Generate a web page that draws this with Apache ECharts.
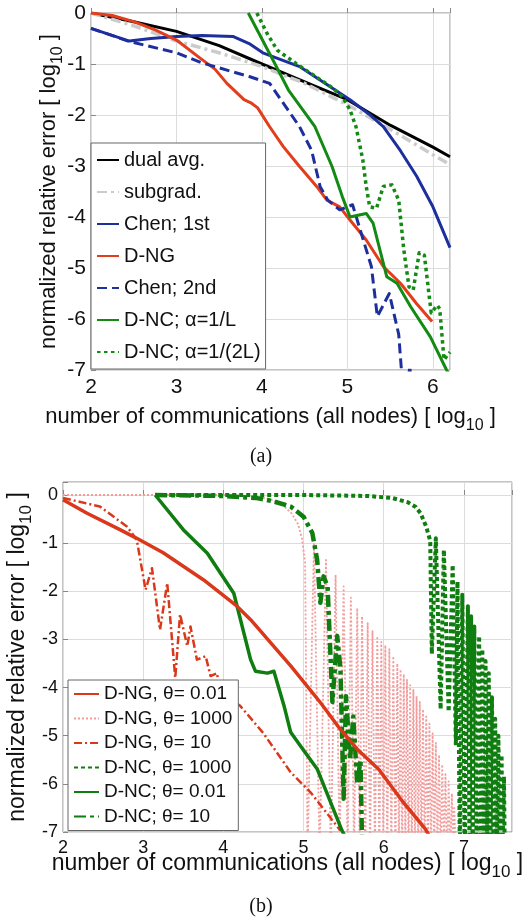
<!DOCTYPE html>
<html>
<head>
<meta charset="utf-8">
<script src="https://cdn.jsdelivr.net/npm/echarts@6.0.0/dist/echarts.min.js"></script>
<style>
  html, body { margin: 0; padding: 0; background: #fff; }
  #chart { width: 522px; height: 924px; }
</style>
</head>
<body>
<div id="chart"></div>
<script>
// ---- panel (a) ----
const dualAvgX = [2, 2.5, 3, 3.5, 4, 4.5, 5, 5.5, 6, 6.2]
const dualAvgY = [0, -0.17, -0.36, -0.64, -1.0, -1.35, -1.7, -2.2, -2.63, -2.82]

const subgradX = [2, 2.5, 3, 3.5, 4, 4.5, 5, 5.5, 6, 6.2]
const subgradY = [0, -0.25, -0.55, -0.78, -1.05, -1.38, -1.8, -2.28, -2.78, -2.97]

const chen1X = [2, 2.45, 2.7, 3, 3.3, 3.66, 3.85, 4.01, 4.44, 4.83, 5.03, 5.25, 5.42, 5.62, 5.81, 6.0, 6.2]
const chen1Y = [-0.3, -0.55, -0.5, -0.46, -0.44, -0.46, -0.6, -0.78, -1.05, -1.48, -1.7, -1.98, -2.23, -2.7, -3.2, -3.8, -4.6]

const dngX = [2, 2.25, 2.5, 2.75, 3, 3.28, 3.45, 3.59, 3.79, 3.87, 3.95, 4.09, 4.25, 4.44, 4.64, 4.76, 4.91, 5.03, 5.22, 5.42, 5.62, 5.81, 5.99]
const dngY = [0, -0.05, -0.17, -0.33, -0.53, -0.89, -1.1, -1.38, -1.7, -1.76, -1.86, -2.23, -2.62, -3.01, -3.4, -3.67, -3.8, -4.06, -4.45, -4.97, -5.3, -5.7, -6.05]

const chen2X = [2, 2.45, 3, 3.3, 3.86, 4.09, 4.44, 4.58, 4.68, 4.77, 4.91, 5.06, 5.28, 5.35, 5.49, 5.6, 5.65, 5.71, 5.73, 5.75]
const chen2Y = [-0.3, -0.56, -0.78, -0.98, -1.25, -1.38, -2.23, -2.69, -3.4, -3.67, -3.86, -3.76, -4.97, -5.95, -5.5, -6.3, -7.4, -7.2, -6.93, -7.4]

const dncLX = [3.84, 4.15, 4.31, 4.62, 4.82, 4.94, 5.03, 5.22, 5.3, 5.46, 5.58, 5.74, 5.97, 6.16, 6.2]
const dncLY = [0, -0.99, -1.51, -2.23, -3.01, -3.6, -4.0, -3.93, -4.12, -5.17, -5.3, -5.76, -6.35, -7.0, -7.1]

const dnc2LX = [3.94, 4.06, 4.18, 4.45, 4.82, 4.94, 5.03, 5.1, 5.18, 5.22, 5.26, 5.34, 5.42, 5.52, 5.6, 5.66, 5.72, 5.77, 5.84, 5.9, 5.98, 6.05, 6.08, 6.13, 6.2]
const dnc2LY = [0, -0.4, -0.73, -1.05, -1.46, -1.64, -1.9, -2.23, -2.88, -3.4, -3.8, -3.83, -3.4, -3.37, -3.67, -4.65, -5.37, -5.43, -4.7, -4.75, -5.88, -5.73, -5.8, -6.8, -6.65]

// ---- panel (b) ----
const ng001X = [2, 2.3, 2.71, 2.92, 3.25, 3.75, 4.17, 4.34, 4.84, 5.21, 5.46, 5.67, 5.94, 6.21, 6.52, 6.56]
const ng001Y = [-0.1, -0.38, -0.72, -0.9, -1.2, -1.76, -2.31, -2.59, -3.55, -4.31, -4.87, -5.28, -5.7, -6.31, -6.94, -7.05]

const ng1000X = [2, 3, 4, 4.4, 4.6, 4.75, 4.85, 4.93, 4.98, 5.02, 5.05,
  5.13, 5.2, 5.28, 5.34, 5.4, 5.45, 5.5, 5.55, 5.59, 5.63, 5.67, 5.7, 5.73, 5.77,
  5.8, 5.83, 5.86, 5.89, 5.92, 5.945, 5.97, 5.995, 6.02, 6.045, 6.07, 6.095,
  6.12, 6.145, 6.17, 6.19, 6.21, 6.23, 6.25, 6.27, 6.29, 6.31, 6.33, 6.35,
  6.37, 6.39, 6.41, 6.43, 6.45, 6.47, 6.49, 6.51, 6.53, 6.55, 6.57, 6.59,
  6.61, 6.63, 6.65, 6.67, 6.69, 6.71, 6.73, 6.75, 6.77, 6.79, 6.81, 6.83,
  6.85, 6.87, 6.88, 6.9]
const ng1000Y = [0, 0, 0, -0.03, -0.1, -0.22, -0.38, -0.6, -0.9, -1.4, -7.5,
  -1.0, -7.5, -1.35, -7.5, -1.66, -7.5, -1.9, -7.5, -2.13, -7.5, -2.35, -7.5, -2.52, -7.5,
  -2.66, -7.5, -2.83, -7.5, -2.97, -7.5, -3.05, -7.5, -3.12, -7.5, -3.2, -7.5,
  -3.35, -7.5, -3.5, -7.5, -3.62, -7.5, -3.72, -7.5, -3.84, -7.5, -3.95, -7.5,
  -4.05, -7.5, -4.18, -7.5, -4.3, -7.5, -4.45, -7.5, -4.6, -7.5, -4.75, -7.5,
  -4.95, -7.5, -5.15, -7.5, -5.4, -7.5, -5.6, -7.5, -5.8, -7.5, -5.95, -7.5,
  -6.2, -7.5, -6.5, -7.5]

const ng10X = [2, 2.46, 2.8, 2.92, 3.03, 3.11, 3.21, 3.3, 3.4, 3.46, 3.55, 3.59, 3.67, 3.78, 3.84, 3.92, 3.96, 4.21, 4.5, 4.84, 5.09, 5.46]
const ng10Y = [-0.06, -0.24, -0.66, -0.93, -1.97, -1.52, -2.8, -1.83, -3.8, -2.48, -3.14, -2.73, -3.42, -3.35, -3.76, -3.7, -4.1, -4.38, -4.95, -5.76, -6.18, -6.97]

const nc1000X = [3.15, 4, 5, 5.8, 6.1, 6.3, 6.4, 6.46, 6.53, 6.58, 6.6,
  6.65, 6.71, 6.75, 6.81, 6.86, 6.9, 6.92, 6.95, 6.98, 7.01, 7.05, 7.07,
  7.09, 7.11, 7.13, 7.16, 7.19, 7.21, 7.23, 7.25, 7.27, 7.29, 7.31, 7.33,
  7.35, 7.37, 7.39, 7.41, 7.43, 7.45, 7.47, 7.48, 7.5, 7.51]
const nc1000Y = [0, 0, 0, -0.02, -0.06, -0.15, -0.25, -0.38, -0.66, -0.95, -3.3,
  -0.9, -4.45, -1.14, -4.5, -1.45, -5.2, -1.8, -7.5, -2.07, -7.5, -2.31, -7.5,
  -2.52, -7.5, -2.73, -7.5, -2.93, -7.5, -3.2, -7.5, -3.45, -7.5, -3.7, -7.5,
  -4.2, -7.5, -4.65, -7.5, -5.0, -7.5, -5.4, -7.5, -5.85, -7.5]

const nc001X = [3.15, 3.5, 3.8, 4.13, 4.34, 4.4, 4.55, 4.63, 4.76, 4.84, 4.96, 5.17, 5.48, 5.52]
const nc001Y = [0, -0.72, -1.21, -2.04, -3.42, -3.66, -3.7, -3.66, -4.4, -4.93, -5.21, -5.69, -6.97, -7.1]

const nc10X = [3.15, 4.0, 4.4, 4.6, 4.84, 5.0, 5.11, 5.17, 5.21, 5.25, 5.3, 5.36, 5.42, 5.46, 5.5, 5.53, 5.58, 5.62, 5.67, 5.71, 5.73]
const nc10Y = [0, -0.02, -0.06, -0.12, -0.24, -0.45, -0.79, -1.35, -2.24, -1.69, -1.9, -4.3, -2.93, -3.6, -6.31, -4.18, -5.5, -4.6, -6.0, -5.5, -7.2]

const legendA = ['dual avg.', 'subgrad.', 'Chen; 1st', 'D-NG', 'Chen; 2nd', 'D-NC; α=1/L', 'D-NC; α=1/(2L)']
const legendB = ['D-NG, θ= 0.01', 'D-NG, θ= 1000', 'D-NG, θ= 10', 'D-NC, θ= 1000', 'D-NC; θ= 0.01', 'D-NC; θ= 10']

const FONT = "'Liberation Sans', Arial, sans-serif"
const axisTitle = 'number of communications (all nodes) [ log{sub|10} ]'
const yTitle = 'normalized relative error [ log{sub|10} ]'

const zip = (xs, ys) => xs.map((x, i) => [x, ys[i]])
const intLabel = (v) => (Math.abs(v - Math.round(v)) < 1e-9 ? String(Math.round(v)) : '')

function line(name, xs, ys, grid, color, width, type) {
  return {
    name,
    type: 'line',
    xAxisIndex: grid,
    yAxisIndex: grid,
    data: zip(xs, ys),
    symbol: 'none',
    showSymbol: false,
    animation: false,
    clip: true,
    lineStyle: { color, width, type: type || 'solid', cap: 'butt', join: 'round' },
    itemStyle: { color },
  }
}

function nameStyle(fs) {
  return {
    fontFamily: FONT, fontSize: fs, color: '#111',
    rich: { sub: { fontFamily: FONT, fontSize: Math.round(fs * 0.72), color: '#111', padding: [18, 0, 0, 0] } },
  }
}

function xAxis(grid, max, fs, nameFs, nameGap) {
  return {
    type: 'value',
    gridIndex: grid,
    min: 2,
    max,
    interval: 1,
    name: axisTitle,
    nameLocation: 'middle',
    nameGap,
    nameMoveOverlap: false,
    nameTextStyle: nameStyle(nameFs),
    axisLine: { show: false },
    axisTick: { show: true, inside: true, length: 5, lineStyle: { color: '#888' } },
    axisLabel: { fontFamily: FONT, fontSize: fs, color: '#111', margin: 7, formatter: intLabel },
    splitLine: { show: true, lineStyle: { color: '#dcdcdc', width: 1 } },
  }
}

function yAxis(grid, max, fs, nameFs, nameGap) {
  return {
    type: 'value',
    gridIndex: grid,
    min: -7,
    max,
    interval: 1,
    name: yTitle,
    nameLocation: 'middle',
    nameGap,
    nameMoveOverlap: false,
    nameTextStyle: nameStyle(nameFs),
    axisLine: { show: false },
    axisTick: { show: true, inside: true, length: 5, lineStyle: { color: '#888' } },
    axisLabel: { fontFamily: FONT, fontSize: fs, color: '#111', margin: 5, formatter: intLabel },
    splitLine: { show: true, lineStyle: { color: '#dcdcdc', width: 1 } },
  }
}

const RED_A = '#e23d1c'
const BLUE = '#1d2f9c'
const GREEN_A = '#138a13'
const RED_B = '#d9381a'
const PINK = '#f29c9c'
const GREEN_B = '#0f7d0f'

const chart = echarts.init(document.getElementById('chart'))
chart.setOption({
  backgroundColor: '#fff',
  animation: false,
  title: [
    { text: '(a)', left: 'center', top: 442, textStyle: { fontFamily: "'Liberation Serif', serif", fontSize: 20, fontWeight: 'normal', color: '#111' } },
    { text: '(b)', left: 'center', top: 892, textStyle: { fontFamily: "'Liberation Serif', serif", fontSize: 20, fontWeight: 'normal', color: '#111' } },
  ],
  grid: [
    { left: 91, top: 13, width: 359, height: 357, show: true, borderColor: '#8a8a8a', borderWidth: 1, backgroundColor: '#fff', containLabel: false, outerBoundsMode: 'none' },
    { left: 63, top: 482, width: 449, height: 350, show: true, borderColor: '#8a8a8a', borderWidth: 1, backgroundColor: '#fff', containLabel: false, outerBoundsMode: 'none' },
  ],
  xAxis: [xAxis(0, 6.2, 21, 22, 30), xAxis(1, 7.6, 18, 23, 14)],
  yAxis: [yAxis(0, 0, 21, 22, 25), yAxis(1, 0.27, 18, 23, 28)],
  legend: [
    {
      data: legendA,
      orient: 'vertical',
      left: 91,
      top: 143,
      padding: [5, 5, 5, 5],
      itemWidth: 22,
      itemHeight: 12,
      itemGap: 8,
      backgroundColor: '#fff',
      borderColor: '#666',
      borderWidth: 1,
      borderRadius: 0,
      selectedMode: false,
      itemStyle: { opacity: 0 },
      textStyle: { fontFamily: FONT, fontSize: 20, color: '#111', lineHeight: 24 },
    },
    {
      data: legendB,
      orient: 'vertical',
      left: 68,
      top: 680,
      padding: [4, 6, 4, 5],
      itemWidth: 25,
      itemHeight: 12,
      itemGap: 4.5,
      backgroundColor: '#fff',
      borderColor: '#666',
      borderWidth: 1,
      borderRadius: 0,
      selectedMode: false,
      itemStyle: { opacity: 0 },
      textStyle: { fontFamily: FONT, fontSize: 19, color: '#111', lineHeight: 20 },
    },
  ],
  series: [
    line('dual avg.', dualAvgX, dualAvgY, 0, '#000', 3),
    line('subgrad.', subgradX, subgradY, 0, '#cbcbcb', 3.5, [10, 4, 3, 4]),
    line('Chen; 1st', chen1X, chen1Y, 0, BLUE, 3),
    line('D-NG', dngX, dngY, 0, RED_A, 3),
    line('Chen; 2nd', chen2X, chen2Y, 0, BLUE, 3, [10, 5]),
    line('D-NC; α=1/L', dncLX, dncLY, 0, GREEN_A, 3),
    line('D-NC; α=1/(2L)', dnc2LX, dnc2LY, 0, GREEN_A, 3.5, [3.5, 3.5]),

    line('D-NG, θ= 1000', ng1000X, ng1000Y, 1, PINK, 1.8, [2, 2]),
    line('D-NC, θ= 1000', nc1000X, nc1000Y, 1, GREEN_B, 4, [4, 3]),
    line('D-NG, θ= 10', ng10X, ng10Y, 1, RED_B, 2.5, [8, 3, 2, 3]),
    line('D-NC; θ= 10', nc10X, nc10Y, 1, GREEN_B, 4.5, [12, 4, 4, 4]),
    line('D-NC; θ= 0.01', nc001X, nc001Y, 1, GREEN_B, 3.5),
    line('D-NG, θ= 0.01', ng001X, ng001Y, 1, RED_B, 3.5),
  ],
})
</script>
</body>
</html>
